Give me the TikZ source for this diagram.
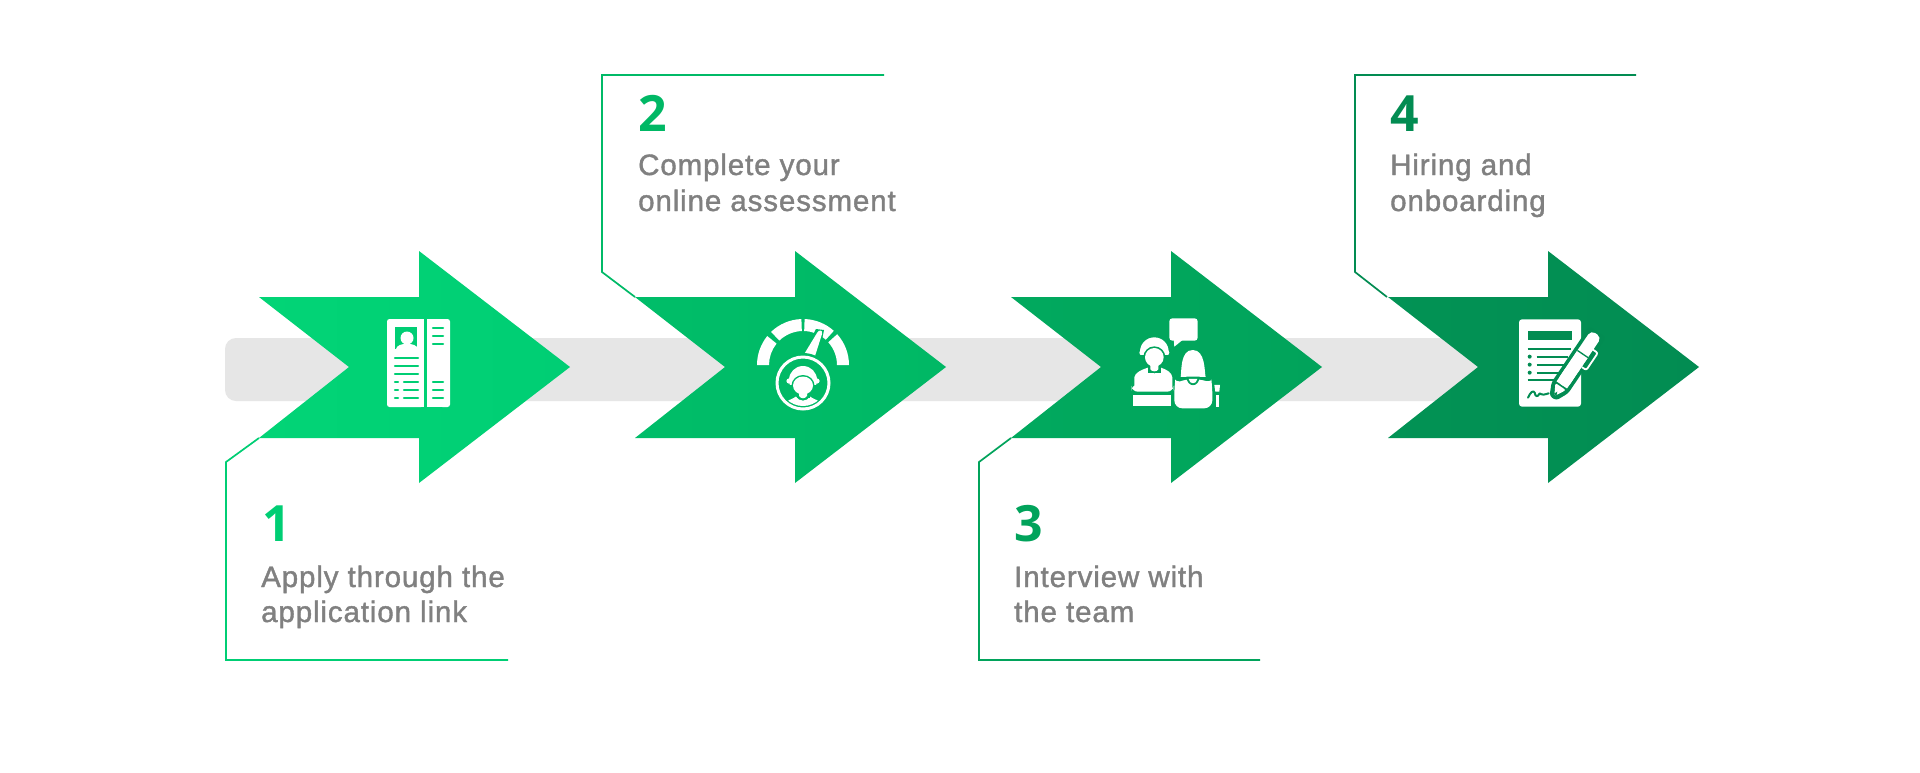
\documentclass[tikz,border=0pt]{standalone}
\usepackage{fontspec}
\setmainfont{Liberation Sans}
\newfontfamily\numfont{Open Sans}
\newfontfamily\bodyfont[FakeBold=1.3,LetterSpace=3]{Liberation Sans}
\definecolor{gA}{HTML}{00CE74}
\definecolor{gB}{HTML}{00B865}
\definecolor{gC}{HTML}{01A35B}
\definecolor{gD}{HTML}{028C52}
\definecolor{gAl}{HTML}{02D476}
\definecolor{barc}{HTML}{E6E6E6}
\definecolor{txtc}{HTML}{808080}
\tikzset{
 x=1pt,y=-1pt,
 label text/.style={font=\bodyfont\fontsize{29.5}{36}\selectfont,text=txtc,anchor=base west,inner sep=0pt,align=left},
 num text/.style={font=\numfont\bfseries\fontsize{50}{50}\selectfont,anchor=base west,inner sep=0pt},
 bracket/.style={line width=1.7pt,line join=miter},
}
\newcommand{\arrowat}[3]{%
 \begin{scope}[xshift=#1pt]
  \shade[left color=#2,right color=#3] (259,297) -- (419,297) -- (419,251) -- (570,367) -- (419,483) -- (419,438) -- (259,438) -- (349,367) -- cycle;
 \end{scope}}
\begin{document}
\begin{tikzpicture}
\useasboundingbox (0,0) rectangle (1920,772);
\fill[white] (0,0) rectangle (1920,772);
% bar
\fill[barc,rounded corners=11pt] (225,338) rectangle (1500,401);
% brackets
\draw[bracket,gA] (259,438) -- (226,462) -- (226,660) -- (508,660);
\draw[bracket,gB!90!gA] (635,297) -- (602,272) -- (602,75) -- (884,75);
\draw[bracket,gC] (1011,438) -- (979,462) -- (979,660) -- (1260,660);
\draw[bracket,gD] (1387,297) -- (1355,272) -- (1355,75) -- (1636,75);
% arrows
\arrowat{0}{gAl}{gA}
\arrowat{376}{gB!75!gA}{gB}
\arrowat{752}{gC!70!gB}{gC}
\arrowat{1129}{gD!70!gC}{gD}
% icon 1
\fill[white,rounded corners=2.5pt] (387,319) -- (423.5,319) -- (423.5,407) -- (387,407) -- cycle;
\fill[white] (400,319) rectangle (423.5,407);
\fill[white,rounded corners=2.5pt] (440,319) -- (450,319) -- (450,407) -- (440,407) -- cycle;
\fill[white] (426.5,319) rectangle (445,407);
\fill[gA] (395,327) rectangle (417,349);
\fill[white] (407,338) circle (6.5);
\fill[white] (396,349) .. controls (397,342) and (417,342) .. (418,349) -- cycle;
\foreach \yy in {358,366,374}{\draw[gA,line width=2.5pt,line cap=round] (395,\yy) -- (418,\yy);}
\foreach \yy in {382,390,398}{
 \draw[gA,line width=2.5pt,line cap=round] (395,\yy) -- (398,\yy);
 \draw[gA,line width=2.5pt,line cap=round] (404,\yy) -- (418,\yy);
 \draw[gA,line width=2.5pt,line cap=round] (433,\yy) -- (443,\yy);}
\foreach \yy in {328,336,344}{\draw[gA,line width=2.5pt,line cap=round] (433,\yy) -- (443,\yy);}
% icon 2
\colorlet{gI}{gB!92!gA}
\begin{scope}[shift={(803,365)}]
 \foreach \aa/\bb in {180/141,134/92,88/48,42/0}{
  \fill[white] ({46*cos(\aa)},{-46*sin(\aa)}) arc[start angle=-\aa,end angle=-\bb,radius=46] -- ({34*cos(\bb)},{-34*sin(\bb)}) arc[start angle=-\bb,end angle=-\aa,radius=34] -- cycle;}
 \fill[gI] (-2,-8) -- (13,-36) -- (21,-35) -- (15,-5) -- cycle;
 \fill[white] (0,-9) -- (14,-32) .. controls (16,-36) and (20,-35) .. (19,-31) -- (12,-9) -- cycle;
 \fill[gI] (0,18) circle (30);
 \fill[white,even odd rule] (0,18) circle (27.5) (0,18) circle (24.5);
 % person
 \begin{scope}
  \clip (0,18) circle (23);
  \fill[white] (-19,46) -- (-19,38) .. controls (-15,35) and (-10,34) .. (-7,31.5) .. controls (-4,37) and (4,37) .. (7,31.5) .. controls (10,34) and (15,35) .. (19,38) -- (19,46) -- cycle;
 \end{scope}
 \begin{scope}
  \clip (-20,0) rectangle (20,19);
  \fill[white] (0,15) circle (14);
 \end{scope}
 \fill[white] (-14,16) circle (2.6) (14,16) circle (2.6);
 \fill[gI] (0,20.5) ellipse (11.5 and 10.5);
 \fill[gI] (-6.5,27) rectangle (6.5,33);
 \fill[white] (-4,27) -- (-4,31) .. controls (-2,34) and (2,34) .. (4,31) -- (4,27) -- cycle;
 \fill[white] (0,20.5) ellipse (10 and 9);
\end{scope}
% icon 3
\begin{scope}[shift={(1115,300)},x=0.3333pt,y=-0.3333pt]
 \fill[white,rounded corners=3pt] (163,55) rectangle (248,122);
 \fill[white] (176,115) -- (178,140) -- (205,118) -- cycle;
 % man: body
 \fill[white] (58,262) -- (58,232) .. controls (60,218) and (78,210) .. (98,203) .. controls (104,226) and (132,226) .. (138,203) .. controls (158,210) and (170,218) .. (172,232) -- (172,262) -- cycle;
 \fill[white,rounded corners=6pt] (50,254) rectangle (175,275);
 \fill[white] (55,285) rectangle (168,318);
 % man: head
 \begin{scope}
  \clip (60,100) rectangle (180,162);
  \fill[white] (118,155) circle (43);
 \end{scope}
 \fill[white] (80,158) circle (7) (156,158) circle (7);
 \fill[gC] (118,172) ellipse (33 and 33);
 \fill[gC] (98,195) rectangle (138,218);
 \fill[white] (106,195) -- (106,208) .. controls (110,216) and (126,216) .. (130,208) -- (130,195) -- cycle;
 \fill[white] (118,172) ellipse (28 and 28);
 % woman
 \fill[gC] (170,280) rectangle (178,328);
 \fill[white] (197,232) .. controls (200,215) and (195,150) .. (233,150) .. controls (272,150) and (268,215) .. (272,232) -- cycle;
 \fill[gC] (195,232) rectangle (272,240);
 \fill[white,rounded corners=8pt] (178,325) -- (178,262) .. controls (180,246) and (200,242) .. (213,237) -- (254,237) .. controls (270,242) and (290,246) .. (292,262) -- (292,325) -- cycle;
 \fill[gC] (214,230) .. controls (216,264) and (252,264) .. (254,230) -- cycle;
 \fill[white] (221,237) .. controls (224,254) and (244,254) .. (247,237) -- cycle;
 \fill[white] (298,255) -- (315,255) -- (313,275) -- (301,275) -- cycle;
 \fill[white] (303,285) rectangle (311,320);
\end{scope}
% icon 4
\begin{scope}[shift={(1500,300)},x=0.3333pt,y=-0.3333pt]
 \fill[white,rounded corners=3pt] (57,58) rectangle (243,320);
 \fill[gD] (85,92) rectangle (215,120);
 \foreach \yy in {147,241}{\draw[gD,line width=2.2pt] (83,\yy) -- (212,\yy);}
 \foreach \yy in {170,194,218}{
  \draw[gD,line width=2.2pt] (110,\yy) -- (205,\yy);
  \fill[gD] (89,\yy) circle (6);}
 \draw[gD,line width=2pt,line join=round,line cap=round] (84,293) .. controls (92,275) and (100,270) .. (104,278) .. controls (106,290) and (112,292) .. (118,282) .. controls (120,276) and (124,288) .. (130,284) .. controls (136,280) and (140,285) .. (146,280);
 % pen
 \begin{scope}[shift={(163,288)},rotate=56]
  \fill[gD,rounded corners=3pt] (-8,-12) -- (30,-30) -- (232,-30) -- (232,30) -- (30,30) -- (-8,12) -- cycle;
  \fill[white,rounded corners=1.5pt] (0,0) -- (34,-19) -- (34,19) -- cycle;
  \fill[gD] (4,-5) -- (16,0) -- (4,5) -- cycle;
  \fill[white,rounded corners=5pt] (40,-19) rectangle (225,19);
  \fill[white] (40,-19) rectangle (150,19);
  \fill[gD] (150,-19) rectangle (154,19);
  \draw[white,line width=1.8pt,rounded corners=2pt] (118,20) -- (118,36) -- (180,36) -- (180,18);
 \end{scope}
\end{scope}
% text
\node[num text,text=gA] (n1) at (262,541) {1};
\node[label text] (t1a) at (261,587) {Apply through the};
\node[label text] (t1b) at (261,622) {application link};
\node[num text,text=gB] (n2) at (638,131) {2};
\node[label text] (t2a) at (638,175) {Complete your};
\node[label text] (t2b) at (638,211) {online assessment};
\node[num text,text=gC] (n3) at (1014,541) {3};
\node[label text] (t3a) at (1014,587) {Interview with};
\node[label text] (t3b) at (1014,622) {the team};
\node[num text,text=gD] (n4) at (1390,131) {4};
\node[label text] (t4a) at (1390,175) {Hiring and};
\node[label text] (t4b) at (1390,211) {onboarding};
\end{tikzpicture}
\end{document}
